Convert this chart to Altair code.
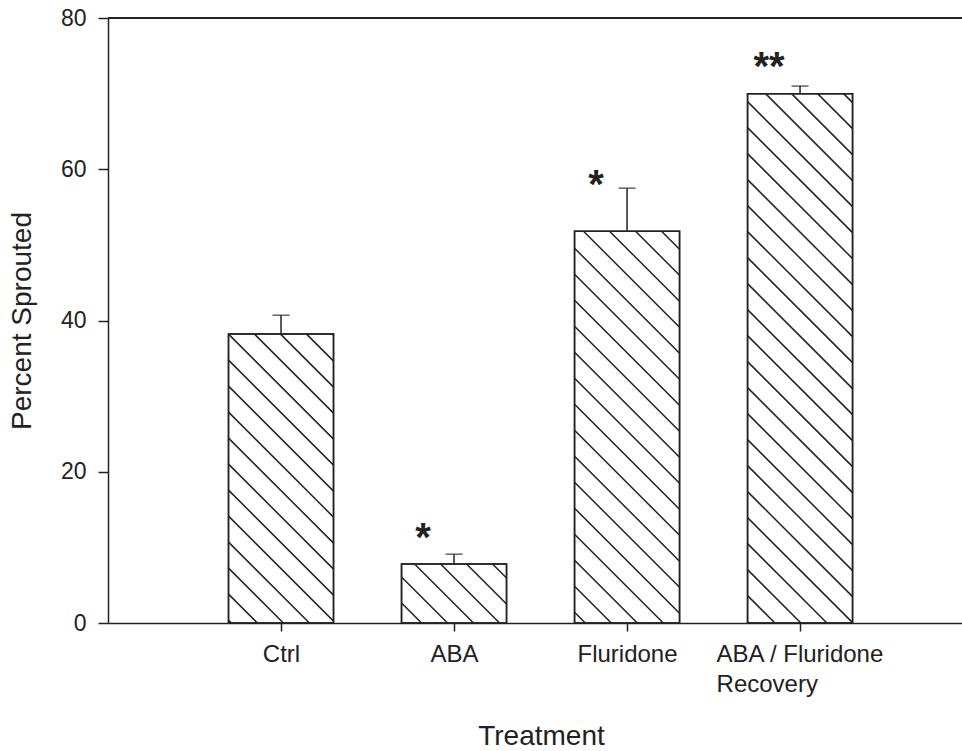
import altair as alt
import pandas as pd

# Sprouting results per treatment
categories = ["Ctrl", "ABA", "Fluridone", "ABA / Fluridone\nRecovery"]
percent_sprouted = [38.2, 7.8, 51.8, 70.0]
sem = [2.5, 1.3, 5.7, 1.0]
significance = ["", "*", "*", "**"]
marker_y = [0, 12.6, 59.2, 74.8]

# Layout and style
PLOT_W, PLOT_H = 854, 605
Y_MAX = 80
X_MAX = 4.936
PX_X = PLOT_W / X_MAX
PX_Y = PLOT_H / Y_MAX
BAR_W = 105
CAP_W = 17
HATCH_GAP = 26
hatch_phase = [0, 13, 9, 18]
INK = "#222222"
FONT = "Liberation Sans"

positions = list(range(1, len(categories) + 1))
half = BAR_W / 2 / PX_X

bars = pd.DataFrame({
    "pos": positions,
    "left": [p - half for p in positions],
    "right": [p + half for p in positions],
    "value": percent_sprouted,
    "upper": [v + e for v, e in zip(percent_sprouted, sem)],
    "mark": significance,
    "mark_y": marker_y,
})

# Diagonal hatch segments inside each bar (45 degrees on screen)
rows = []
for p, v, ph in zip(positions, percent_sprouted, hatch_phase):
    h = v * PX_Y
    d = h + ph
    while d - HATCH_GAP > 0:
        d -= HATCH_GAP
    while d < BAR_W + h:
        if d > 0:
            x0 = max(0.0, d - h)
            x1 = min(BAR_W, d)
            rows.append({
                "x": p - half + x0 / PX_X,
                "x2": p - half + x1 / PX_X,
                "y": (d - x0) / PX_Y,
                "y2": (d - x1) / PX_Y,
            })
        d += HATCH_GAP
hatch = pd.DataFrame(rows)

label_expr = "".join(
    "datum.value == {} ? {} : ".format(
        p, "[" + ",".join("'" + s + "'" for s in c.split("\n")) + "]"
    )
    for p, c in zip(positions, categories)
) + "''"

x_scale = alt.Scale(domain=[0, X_MAX], nice=False, zero=False)
y_scale = alt.Scale(domain=[0, Y_MAX], nice=False)

x_axis = alt.Axis(
    title="Treatment", values=positions, labelExpr=label_expr,
    tickSize=8, tickWidth=1.5, tickColor=INK, domainColor=INK, domainWidth=1.5,
    labelFont=FONT, labelFontSize=24, labelColor=INK, labelPadding=11,
    labelLineHeight=30, labelBaseline="top",
    labelAlign={"condition": {"test": "datum.value == 4", "value": "left"}, "value": "center"},
    labelOffset={"condition": {"test": "datum.value == 4", "value": -84}, "value": 0},
    titleFont=FONT, titleFontSize=28, titleFontWeight="normal", titleColor=INK,
    titleX=433, titleAlign="center", titleY=99, titleBaseline="top",
    grid=False, labelFlush=False,
)
y_axis = alt.Axis(
    title="Percent Sprouted", values=[0, 20, 40, 60, 80],
    tickSize=10, tickWidth=1.5, tickColor=INK, domainColor=INK, domainWidth=1.5,
    labelFont=FONT, labelFontSize=23, labelColor=INK, labelPadding=12,
    titleFont=FONT, titleFontSize=28, titleFontWeight="normal", titleColor=INK,
    titleX=-86, titleY=PLOT_H / 2, titleBaseline="middle", titleAngle=-90,
    grid=False, labelFlush=False,
)

base = alt.Chart(bars)

bar_layer = base.mark_bar(fill="white", stroke=INK, strokeWidth=1.5).encode(
    x=alt.X("left:Q", scale=x_scale, axis=x_axis),
    x2="right:Q",
    y=alt.Y("value:Q", scale=y_scale, axis=y_axis),
    y2=alt.datum(0),
)

hatch_layer = alt.Chart(hatch).mark_rule(color=INK, strokeWidth=1.5).encode(
    x=alt.X("x:Q", scale=x_scale), x2="x2:Q",
    y=alt.Y("y:Q", scale=y_scale), y2="y2:Q",
)

outline_layer = base.mark_bar(fill=None, stroke=INK, strokeWidth=1.5).encode(
    x=alt.X("left:Q", scale=x_scale), x2="right:Q",
    y=alt.Y("value:Q", scale=y_scale), y2=alt.datum(0),
)

err_layer = base.mark_rule(color=INK, strokeWidth=1.5).encode(
    x=alt.X("pos:Q", scale=x_scale),
    y=alt.Y("value:Q", scale=y_scale), y2="upper:Q",
)

cap_layer = base.mark_tick(orient="horizontal", size=CAP_W, thickness=1.5, color=INK).encode(
    x=alt.X("pos:Q", scale=x_scale),
    y=alt.Y("upper:Q", scale=y_scale),
)

star_layer = base.transform_filter("datum.mark != ''").mark_text(
    font=FONT, fontSize=40, fontWeight="bold", color=INK, dx=-31, dy=11,
    baseline="middle", align="center",
).encode(
    x=alt.X("pos:Q", scale=x_scale),
    y=alt.Y("mark_y:Q", scale=y_scale),
    text="mark:N",
)

top_line = alt.Chart(bars).mark_rule(color=INK, strokeWidth=1.5).encode(
    x=alt.value(0), x2=alt.value(PLOT_W), y=alt.value(0),
)

chart = alt.layer(
    bar_layer, hatch_layer, outline_layer, err_layer, cap_layer, star_layer, top_line
).properties(
    width=PLOT_W, height=PLOT_H,
    padding={"left": 108, "top": 18, "right": 0, "bottom": 128},
    autosize=alt.AutoSizeParams(type="none"),
    background="white",
).configure_view(stroke=None)

chart.save("out.html", embed_options={"renderer": "svg", "actions": False})
